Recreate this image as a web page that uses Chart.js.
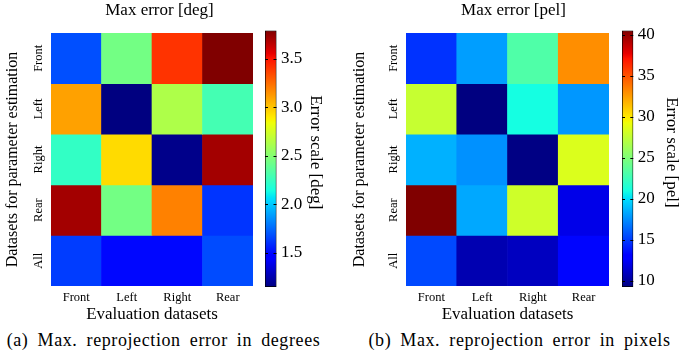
<!DOCTYPE html>
<html>
<head>
<meta charset="utf-8">
<script src="https://cdn.jsdelivr.net/npm/chart.js@4.4.1/dist/chart.umd.min.js"></script>
<style>
  html, body { margin: 0; padding: 0; background: #fff; width: 679px; height: 355px; overflow: hidden; }
  .box { position: absolute; }
  .cap { position: absolute; top: 330px; font-family: 'Liberation Serif', serif; font-size: 18px; color: #000;
         white-space: nowrap; letter-spacing: 0.6px; word-spacing: 4px; transform: translateX(-50%); }
</style>
</head>
<body>
<div class="box" style="left:0;top:0;width:319px;height:326px;z-index:1"><canvas id="hmL"></canvas></div>
<div class="box" style="left:259px;top:0;width:81px;height:326px;z-index:2"><canvas id="cbL"></canvas></div>
<div class="box" style="left:347px;top:0;width:333px;height:326px;z-index:1"><canvas id="hmR"></canvas></div>
<div class="box" style="left:616px;top:0;width:66px;height:326px;z-index:2"><canvas id="cbR"></canvas></div>
<div class="cap" style="left:163.5px">(a) Max. reprojection error in degrees</div>
<div class="cap" style="left:519.5px">(b) Max. reprojection error in pixels</div>
<script>
// ---------- data ----------
const evalLabels  = ['Front', 'Left', 'Right', 'Rear'];
const paramLabels = ['Front', 'Left', 'Right', 'Rear', 'All'];

const degFront = [1.68, 2.44, 3.41, 3.79];
const degLeft  = [3.10, 1.145, 2.63, 2.29];
const degRight = [2.23, 2.94, 1.17, 3.71];
const degRear  = [3.71, 2.44, 3.19, 1.61];
const degAll   = [1.63, 1.49, 1.49, 1.67];

const pelFront = [14.7, 18.0, 23.2, 33.0];
const pelLeft  = [27.7, 9.27, 21.0, 17.8];
const pelRight = [18.6, 17.6, 9.4, 28.5];
const pelRear  = [40.49, 18.3, 28.0, 12.1];
const pelAll   = [15.4, 10.6, 11.0, 13.3];

const degTicks = [1.5, 2.0, 2.5, 3.0, 3.5];
const pelTicks = [10, 15, 20, 25, 30, 35, 40];

const degRows = [degFront, degLeft, degRight, degRear, degAll];
const pelRows = [pelFront, pelLeft, pelRight, pelRear, pelAll];

// ---------- jet colormap (matplotlib) ----------
const jetR = [[0,0],[0.35,0],[0.66,1],[0.89,1],[1,0.5]];
const jetG = [[0,0],[0.125,0],[0.375,1],[0.64,1],[0.91,0],[1,0]];
const jetB = [[0,0.5],[0.11,1],[0.34,1],[0.65,0],[1,0]];
function seg(s, t) {
  for (let i = 1; i < s.length; i++) {
    if (t <= s[i][0]) {
      const f = (t - s[i-1][0]) / (s[i][0] - s[i-1][0]);
      return s[i-1][1] + f * (s[i][1] - s[i-1][1]);
    }
  }
  return s[s.length-1][1];
}
function jet(t) {
  t = Math.max(0, Math.min(1, t));
  return 'rgb(' + Math.round(255*seg(jetR,t)) + ',' + Math.round(255*seg(jetG,t)) + ',' + Math.round(255*seg(jetB,t)) + ')';
}
const jetStops = [0, 0.11, 0.125, 0.34, 0.35, 0.375, 0.64, 0.65, 0.66, 0.89, 0.91, 1];

Chart.defaults.font.family = "'Liberation Serif', 'Times New Roman', serif";
Chart.defaults.color = '#000';

const rowLabelPlugin = {
  id: 'rowLabels',
  afterDraw(chart) {
    const ys = chart.scales.y, ca = chart.chartArea, ctx = chart.ctx;
    ctx.save();
    ctx.fillStyle = '#000';
    ctx.font = "12.5px 'Liberation Serif', serif";
    ctx.textAlign = 'center';
    ctx.textBaseline = 'middle';
    paramLabels.forEach((lab, r) => {
      const y = ys.getPixelForValue(paramLabels.length - r - 0.5);
      ctx.save();
      ctx.translate(ca.left - 12, y);
      ctx.rotate(-Math.PI / 2);
      ctx.fillText(lab, 0, 0);
      ctx.restore();
    });
    ctx.restore();
  }
};

const cbTickPlugin = {
  id: 'cbTicks',
  afterDatasetsDraw(chart) {
    const ys = chart.scales.y, ca = chart.chartArea, ctx = chart.ctx;
    ctx.save();
    ctx.strokeStyle = '#000';
    ctx.lineWidth = 1;
    ys.ticks.forEach(tk => {
      const y = Math.round(ys.getPixelForValue(tk.value)) + 0.5;
      ctx.beginPath();
      ctx.moveTo(ca.left, y); ctx.lineTo(ca.left + 3, y);
      ctx.moveTo(ca.right - 3, y); ctx.lineTo(ca.right, y);
      ctx.stroke();
    });
    ctx.restore();
  }
};

function heatmap(id, rows, title, yAxisW, rightW) {
  const all = rows.flat();
  const vmin = Math.min(...all), vmax = Math.max(...all);
  const n = rows.length;
  const datasets = rows.map((row, r) => ({
    data: row.map(() => [n - r - 1, n - r]),
    backgroundColor: row.map(v => jet((v - vmin) / (vmax - vmin))),
    borderWidth: 0,
    grouped: false,
    barPercentage: 1,
    categoryPercentage: 1
  }));
  new Chart(document.getElementById(id), {
    type: 'bar',
    data: { labels: evalLabels, datasets },
    plugins: [rowLabelPlugin],
    options: {
      responsive: true, maintainAspectRatio: false, animation: false, devicePixelRatio: 1,
      layout: { padding: 0 },
      plugins: {
        legend: { display: false }, tooltip: { enabled: false },
        title: { display: true, text: title, color: '#000',
                 font: { size: 17, weight: 'normal', lineHeight: 1.2 },
                 padding: { top: 0, bottom: 12.6 } }
      },
      scales: {
        x: {
          type: 'category',
          grid: { display: false, drawTicks: false }, border: { display: false },
          ticks: { font: { size: 12.5 }, color: '#000', padding: 4, maxRotation: 0 },
          title: { display: true, text: 'Evaluation datasets', color: '#000',
                   font: { size: 17, lineHeight: 1.2 }, padding: { top: 0, bottom: 0.8 } },
          afterFit(s) { s.height = 40; }
        },
        y: {
          min: 0, max: n,
          grid: { display: false, drawTicks: false }, border: { display: false },
          ticks: { display: false },
          title: { display: true, text: 'Datasets for parameter estimation', color: '#000',
                   font: { size: 16, lineHeight: 1.2 }, padding: { top: 2.7, bottom: 0 } },
          afterFit(s) { s.width = yAxisW; }
        },
        y2: {
          position: 'right', display: true,
          grid: { display: false, drawTicks: false }, border: { display: false },
          ticks: { display: false },
          afterFit(s) { s.width = rightW; }
        }
      }
    }
  });
  return { vmin, vmax };
}

function colorbar(id, range, ticks, fmt, title, padLeft, axisW, titlePad) {
  new Chart(document.getElementById(id), {
    type: 'bar',
    data: {
      labels: ['cb'],
      datasets: [{
        data: [[range.vmin, range.vmax]],
        backgroundColor(ctx) {
          const ch = ctx.chart, ca = ch.chartArea;
          if (!ca) return '#888';
          const g = ch.ctx.createLinearGradient(0, ca.bottom, 0, ca.top);
          jetStops.forEach(t => g.addColorStop(t, jet(t)));
          return g;
        },
        borderColor: '#000', borderWidth: 1, borderSkipped: false,
        barPercentage: 1, categoryPercentage: 1
      }]
    },
    plugins: [cbTickPlugin],
    options: {
      responsive: true, maintainAspectRatio: false, animation: false, devicePixelRatio: 1,
      layout: { padding: { left: padLeft, right: 0, top: 30.5, bottom: 39 } },
      plugins: { legend: { display: false }, tooltip: { enabled: false } },
      scales: {
        x: { display: false },
        y: {
          position: 'right', min: range.vmin, max: range.vmax,
          grid: { display: false, drawTicks: false }, border: { display: false },
          afterBuildTicks(s) { s.ticks = ticks.map(v => ({ value: v })); },
          ticks: { font: { size: 17 }, color: '#000', padding: 4.5, callback: v => fmt(v) },
          title: { display: true, text: title + '\u00a0\u00a0\u00a0', color: '#000',
                   font: { size: 17, lineHeight: 1.2 }, padding: { top: titlePad, bottom: 0 } },
          afterFit(s) { s.width = axisW; }
        }
      }
    }
  });
}

const rL = heatmap('hmL', degRows, 'Max error [deg]', 51, 66);
const rR = heatmap('hmR', pelRows, 'Max error [pel]', 59, 71);
colorbar('cbL', rL, degTicks, v => v.toFixed(1), 'Error scale [deg]', 6, 63.5, 14.6);
colorbar('cbR', rR, pelTicks, v => String(v), 'Error scale [pel]', 6, 48.7, 0.8);
</script>
</body>
</html>
